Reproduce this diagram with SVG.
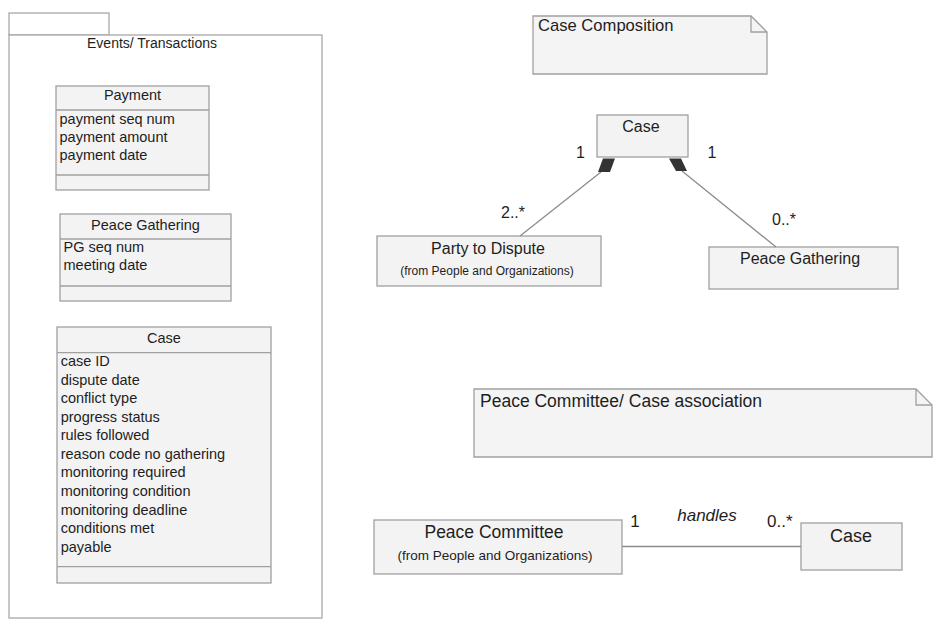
<svg xmlns="http://www.w3.org/2000/svg" width="934" height="621" viewBox="0 0 934 621">
  <style>
    .box { fill: #f3f3f3; stroke: #a0a0a0; stroke-width: 1.3; }
    .pkg { fill: #ffffff; stroke: #a8a8a8; stroke-width: 1.3; }
    .sep { stroke: #a0a0a0; stroke-width: 1.3; fill: none; }
    .note { fill: #f4f4f4; stroke: #a0a0a0; stroke-width: 1.3; }
    .conn { stroke: #8c8c8c; stroke-width: 1.3; fill: none; }
    .dia { fill: #333333; stroke: none; }
    text { font-family: "Liberation Sans", Arial, sans-serif; fill: #1e1e1e; }
    .attr { font-size: 14.5px; }
    .ttl { font-size: 14.5px; text-anchor: middle; }
    .lbl { font-size: 16px; }
    .name { font-size: 16px; text-anchor: middle; }
    .from { font-size: 12px; text-anchor: middle; }
    .big { font-size: 17.5px; }
  </style>

  <!-- Package: Events/ Transactions -->
  <g id="pkg-events">
    <rect class="pkg" x="9" y="13" width="100" height="22"/>
    <rect class="pkg" x="9" y="35" width="313" height="583"/>
    <text x="152" y="48" font-size="14px" text-anchor="middle">Events/ Transactions</text>
  </g>

  <g id="cls-payment">
    <rect class="box" x="56" y="86" width="153" height="104"/>
    <line class="sep" x1="56" y1="110" x2="209" y2="110"/>
    <line class="sep" x1="56" y1="175" x2="209" y2="175"/>
    <text class="ttl" x="132.5" y="100">Payment</text>
    <text class="attr" x="59.5" y="123.5">payment seq num</text>
    <text class="attr" x="59.5" y="141.8">payment amount</text>
    <text class="attr" x="59.5" y="160">payment date</text>
  </g>

  <g id="cls-peace-gathering-attrs">
    <rect class="box" x="60" y="214" width="171" height="87"/>
    <line class="sep" x1="60" y1="239" x2="231" y2="239"/>
    <line class="sep" x1="60" y1="286" x2="231" y2="286"/>
    <text class="ttl" x="145.5" y="230">Peace Gathering</text>
    <text class="attr" x="63.5" y="252.3">PG seq num</text>
    <text class="attr" x="63.5" y="270.3">meeting date</text>
  </g>

  <g id="cls-case-attrs">
    <rect class="box" x="57" y="327" width="214" height="256"/>
    <line class="sep" x1="57" y1="352.7" x2="271" y2="352.7"/>
    <line class="sep" x1="57" y1="566.7" x2="271" y2="566.7"/>
    <text class="ttl" x="164" y="343.3">Case</text>
    <text class="attr" x="60.7" y="366">case ID</text>
    <text class="attr" x="60.7" y="384.6">dispute date</text>
    <text class="attr" x="60.7" y="403.1">conflict type</text>
    <text class="attr" x="60.7" y="421.7">progress status</text>
    <text class="attr" x="60.7" y="440.3">rules followed</text>
    <text class="attr" x="60.7" y="458.9">reason code no gathering</text>
    <text class="attr" x="60.7" y="477.4">monitoring required</text>
    <text class="attr" x="60.7" y="496">monitoring condition</text>
    <text class="attr" x="60.7" y="514.6">monitoring deadline</text>
    <text class="attr" x="60.7" y="533.1">conditions met</text>
    <text class="attr" x="60.7" y="551.7">payable</text>
  </g>

  <!-- Notes -->
  <g id="note-composition">
    <path class="note" d="M533 16 H751 L767 32 V74 H533 Z"/>
    <path class="sep" d="M751 16 V32 H767"/>
    <text x="538" y="31" font-size="16.6px">Case Composition</text>
  </g>

  <g id="note-association">
    <path class="note" d="M474 389 H916 L932 405 V457 H474 Z"/>
    <path class="sep" d="M916 389 V405 H932"/>
    <text class="big" x="480" y="406.5">Peace Committee/ Case association</text>
  </g>

  <!-- Composition diagram classes -->
  <g id="cls-case">
    <rect class="box" x="597" y="115" width="91" height="42"/>
    <text class="name" x="641" y="131.5" font-size="16.5px">Case</text>
  </g>

  <g id="cls-party">
    <rect class="box" x="377" y="236" width="224" height="50"/>
    <text class="name" x="488" y="253.5">Party to Dispute</text>
    <text class="from" x="487" y="275">(from People and Organizations)</text>
  </g>

  <g id="cls-peace-gathering">
    <rect class="box" x="709" y="247" width="189" height="42"/>
    <text class="name" x="800" y="263.5">Peace Gathering</text>
  </g>

  <!-- Association diagram classes -->
  <g id="cls-peace-committee">
    <rect class="box" x="374" y="520" width="248" height="54"/>
    <text class="big" x="494" y="537.5" text-anchor="middle">Peace Committee</text>
    <text x="495" y="560" font-size="13.5px" text-anchor="middle">(from People and Organizations)</text>
  </g>

  <g id="cls-case-handled">
    <rect class="box" x="801" y="523" width="101" height="47"/>
    <text x="851" y="541.5" font-size="18px" text-anchor="middle">Case</text>
  </g>

  <!-- Connectors: composition diamonds sit on the Case box edge -->
  <g id="connectors">
    <line class="conn" x1="601" y1="172" x2="520" y2="236"/>
    <polygon class="dia" points="603,158.5 615,158.5 610,172 598,172"/>
    <line class="conn" x1="682" y1="171" x2="776" y2="247"/>
    <polygon class="dia" points="669,158.5 681,158.5 687,171 676,171"/>
    <line class="conn" x1="622" y1="546.5" x2="801" y2="546.5"/>

    <text class="lbl" x="580.5" y="158" text-anchor="middle">1</text>
    <text class="lbl" x="712" y="158" text-anchor="middle">1</text>
    <text class="lbl" x="501" y="218">2..*</text>
    <text class="lbl" x="772" y="225">0..*</text>

    <text x="635" y="527" font-size="17px" text-anchor="middle">1</text>
    <text x="707" y="521" font-size="17px" font-style="italic" text-anchor="middle">handles</text>
    <text x="767" y="527" font-size="17px">0..*</text>
  </g>
</svg>
